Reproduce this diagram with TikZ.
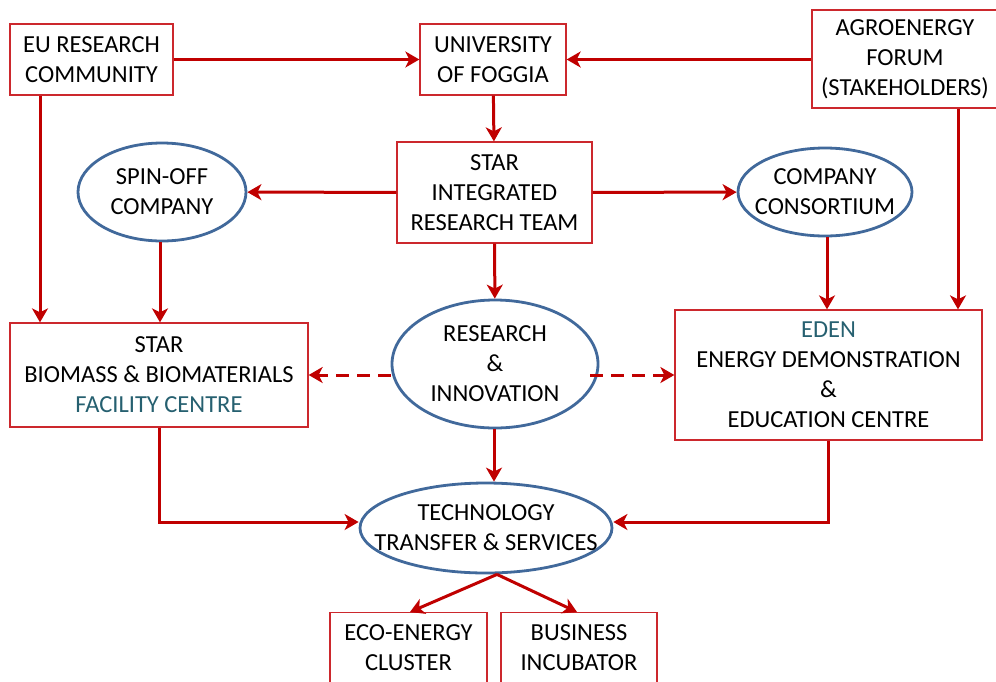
\documentclass[tikz,border=0pt]{standalone}
\usepackage{fontspec}
\setmainfont{Carlito}
\usetikzlibrary{shapes.geometric, arrows.meta}

\definecolor{rojocaja}{RGB}{204,40,45}
\definecolor{rojoflecha}{RGB}{192,0,0}
\definecolor{azulelipse}{RGB}{65,105,155}
\definecolor{verdetexto}{RGB}{38,96,112}

\begin{document}
\begin{tikzpicture}[x=1pt, y=-1pt, line cap=butt, line join=miter,
		font=\fontsize{24.5}{30}\selectfont,
		caja/.style={draw=rojocaja, line width=1.3pt, fill=white, align=center, inner sep=0pt},
		elipse/.style={ellipse, draw=azulelipse, line width=2.8pt, fill=white, align=center, inner xsep=-40pt, inner ysep=-20pt},
		flecha/.style={draw=rojoflecha, line width=3pt, -{Stealth[length=14pt, width=16pt, inset=4pt]}},
		discontinua/.style={flecha, dash pattern=on 13pt off 8pt}]
		
		\useasboundingbox (0,0) rectangle (996,681);
		
		% Fila superior
		\node[caja, minimum width=163, minimum height=71] (eu) at (91.5,59.5) {EU RESEARCH\\COMMUNITY};
		\node[caja, minimum width=146, minimum height=71] (foggia) at (493,59.5) {UNIVERSITY\\OF FOGGIA};
		\node[caja, minimum width=186, minimum height=98] (agro) at (905,59) {AGROENERGY\\FORUM\\(STAKEHOLDERS)};
		
		% Equipo STAR y elipses laterales
		\node[caja, minimum width=195, minimum height=101] (star) at (494.5,192.5) {STAR\\INTEGRATED\\RESEARCH TEAM};
		\node[elipse, minimum width=168, minimum height=98] (spinoff) at (162,192) {SPIN-OFF\\COMPANY};
		\node[elipse, minimum width=174, minimum height=88] (consorcio) at (825,192) {COMPANY\\CONSORTIUM};
		
		% Fila central
		\node[caja, minimum width=298, minimum height=104] (biomasa) at (159,375) {STAR\\BIOMASS \& BIOMATERIALS\\\textcolor{verdetexto}{FACILITY CENTRE}};
		\node[elipse, minimum width=206, minimum height=128] (innovacion) at (495,364) {RESEARCH\\\&\\INNOVATION};
		\node[caja, minimum width=307, minimum height=130] (eden) at (828.5,375) {\textcolor{verdetexto}{EDEN}\\ENERGY DEMONSTRATION\\\&\\EDUCATION CENTRE};
		
		% Transferencia y salidas
		\node[elipse, minimum width=252, minimum height=90] (transfer) at (486,528) {TECHNOLOGY\\TRANSFER \& SERVICES};
		\node[caja, minimum width=157, minimum height=100, text height=16, anchor=north] (eco) at (408.5,612) {ECO-ENERGY\\CLUSTER};
		\node[caja, minimum width=156, minimum height=100, text height=16, anchor=north] (incubadora) at (579,612) {BUSINESS\\INCUBATOR};
		
		% Flechas
		\draw[flecha] (eu) -- (foggia);
		\draw[flecha] (agro.west |- foggia) -- (foggia);
		\draw[flecha] (foggia) -- (star);
		\draw[flecha] (star) -- (spinoff);
		\draw[flecha] (star) -- (consorcio);
		\draw[flecha] (star) -- (innovacion);
		\draw[flecha] (eu.south -| 40,0) -- (biomasa.north -| 40,0);
		\draw[flecha] (spinoff.south -| 160,0) -- (biomasa.north -| 160,0);
		\draw[flecha] (consorcio.south -| 827,0) -- (eden.north -| 827,0);
		\draw[flecha] (agro.south -| 958,0) -- (eden.north -| 958,0);
		\draw[discontinua] (innovacion.west |- biomasa) -- (biomasa);
		\draw[discontinua] (590,375) -- (eden);
		\draw[flecha] (innovacion.south -| 494,0) -- (transfer.north -| 494,0);
		\draw[flecha] (biomasa.south) |- (transfer.west |- 0,522);
		\draw[flecha] (eden.south) |- (transfer.east |- 0,522);
		\draw[flecha] (transfer.south -| 497,0) -- (eco.north -| 410,0);
		\draw[flecha] (transfer.south -| 497,0) -- (incubadora.north -| 577,0);
		
	\end{tikzpicture}
\end{document}
